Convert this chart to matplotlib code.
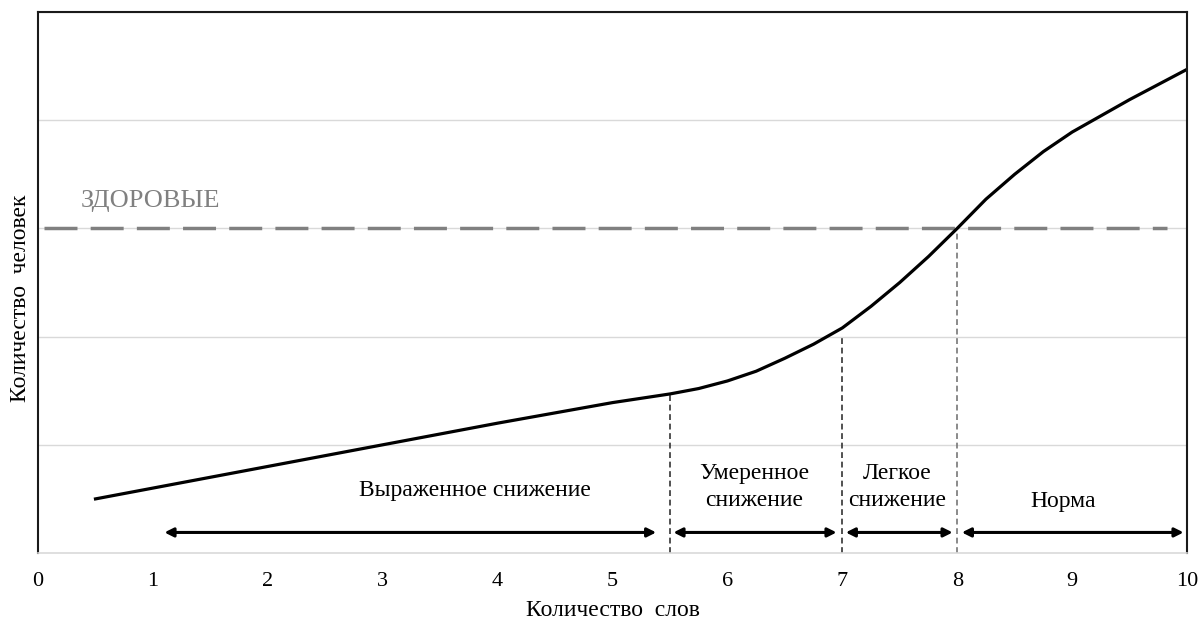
import matplotlib
matplotlib.use('Agg')
import matplotlib.pyplot as plt
import numpy as np

plt.rcParams['font.family'] = ['Liberation Serif', 'DejaVu Serif']

# данные кривой
slova = [0.5, 1, 2, 3, 4, 5, 5.5, 5.75, 6, 6.25, 6.5, 6.75, 7, 7.25, 7.5, 7.75, 8,
         8.25, 8.5, 8.75, 9, 9.25, 9.5, 9.75, 10]
lyudi = [0.5, 0.6, 0.8, 1.0, 1.2, 1.39, 1.47, 1.52, 1.59, 1.68, 1.8, 1.93, 2.08, 2.28, 2.5, 2.74, 3.0,
         3.27, 3.5, 3.71, 3.89, 4.04, 4.19, 4.33, 4.47]

zdorovye = 3.0
granitsy = [5.5, 7, 8]
granitsy_y = [1.47, 2.0, 3.0]

zony = ['Выраженное снижение', 'Умеренное\nснижение', 'Легкое\nснижение', 'Норма']
zony_x = [3.8, 6.23, 7.48, 8.92]
zony_y = [0.58, 0.61, 0.61, 0.48]
strelki = [(1.1, 5.38), (5.53, 6.95), (7.03, 7.96), (8.04, 9.97)]

fig = plt.figure(figsize=(12.04, 6.21), dpi=100)
ax = fig.add_axes([0.0316, 0.1095, 0.9543, 0.8712])

ax.set_xlim(0, 10)
ax.set_ylim(0, 5)
ax.set_yticks([1, 2, 3, 4, 5])
ax.set_yticklabels([])
ax.set_xticks(range(11))
ax.tick_params(axis='both', length=0, labelsize=16, pad=14)
ax.yaxis.grid(True, color='#d9d9d9', linewidth=1)
ax.set_axisbelow(True)

for s in ['left', 'top', 'right']:
    ax.spines[s].set_color('#1a1a1a')
    ax.spines[s].set_linewidth(1.5)
ax.spines['bottom'].set_color('#d9d9d9')
ax.spines['bottom'].set_linewidth(1.2)

# линия "здоровые"
ax.plot([0.05, 9.83], [zdorovye, zdorovye], color='#808080', linewidth=2.5, dashes=(9.5, 3.8))
ax.text(0.37, 3.2, 'ЗДОРОВЫЕ', color='#808080', fontsize=19)

# вертикальные пунктиры
for gx, gy in zip(granitsy, granitsy_y):
    c = '#777777' if gx == 8 else '#333333'
    ax.plot([gx, gx], [0, gy], color=c, linewidth=1.2, dashes=(3.5, 2.2))

# кривая
ax.plot(slova, lyudi, color='black', linewidth=2.3, solid_joinstyle='round')

# стрелки и подписи
for (a, b) in strelki:
    ax.annotate('', xy=(b, 0.19), xytext=(a, 0.19),
                arrowprops=dict(arrowstyle='<|-|>', color='black', lw=2.2,
                                mutation_scale=13, shrinkA=0, shrinkB=0))
for t, x, y in zip(zony, zony_x, zony_y):
    ax.text(x, y, t, ha='center', va='center', fontsize=17, linespacing=1.4)

ax.set_xlabel('Количество  слов', fontsize=17, labelpad=6)
ax.set_ylabel('Количество  человек', fontsize=17)
ax.yaxis.set_label_coords(-0.006, 0.47)

fig.savefig('out.png', dpi=100)
